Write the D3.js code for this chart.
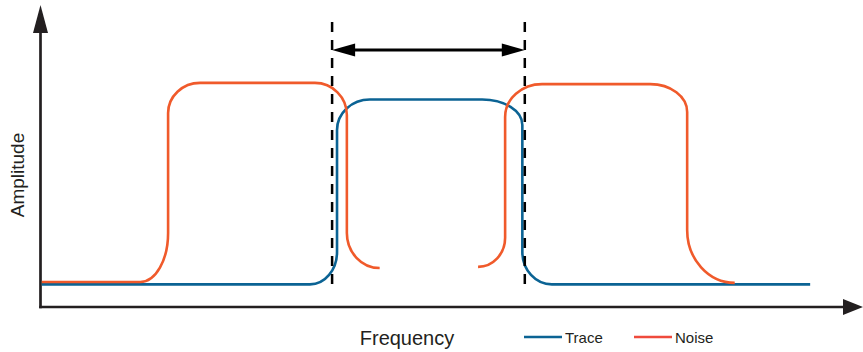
<!DOCTYPE html>
<html>
<head>
<meta charset="utf-8">
<script src="https://cdn.jsdelivr.net/npm/d3@7"></script>
<style>
  body { margin: 0; background: #fff; }
  text { font-family: "Liberation Sans", Arial, sans-serif; fill: #231f20; }
</style>
</head>
<body>
<div id="chart-area"></div>
<script>
// shapes: first point, then corners as [start, corner, end] triples, then an optional last point
const traceShape = [[0.1, 7.5],
    [32.8, 7.5], [36.1, 7.5], [36.1, 18.2],
    [36.1, 58.6], [36.1, 68.7], [40.1, 68.7],
    [53.8, 68.7], [58.7, 68.7], [58.7, 60.3],
    [58.7, 18.2], [58.7, 7.5], [62.3, 7.5],
    [93.8, 7.5]];
const noiseLeft = [[0.1, 8.3],
    [12.1, 8.3], [15.5, 8.3], [15.5, 24.5],
    [15.5, 64.2], [15.5, 74.2], [19.4, 74.2],
    [33.4, 74.2], [37.3, 74.2], [37.3, 63.6],
    [37.3, 24.5], [37.3, 12.9], [41.3, 12.9]];
const noiseRight = [[53.3, 13.3],
    [53.3, 13.3], [56.6, 13.3], [56.6, 22.9],
    [56.6, 62.9], [56.6, 73.8], [61.1, 73.8],
    [74.3, 73.8], [78.8, 73.8], [78.8, 64.6],
    [78.8, 25.5], [78.8, 8.0], [84.6, 8.0]];
const bandEdges = [35.5, 59.0];
const bandTop = 94.4, bandBottom = 5.0, spanLevel = 85.1;
const legendItems = ["Trace", "Noise"];

const width = 863, height = 352;
const x = d3.scaleLinear().domain([0, 100]).range([41, 861]);
const y = d3.scaleLinear().domain([0, 100]).range([307, 5]);

const svg = d3.select('#chart-area').append('svg')
    .attr('width', width)
    .attr('height', height);

// rounded step path built from the shape points
function shapePath(pts) {
    const p = d3.path();
    const k = 0.552;
    p.moveTo(x(pts[0][0]), y(pts[0][1]));
    let i = 1;
    while (i + 2 < pts.length) {
        const s = [x(pts[i][0]), y(pts[i][1])];
        const c = [x(pts[i + 1][0]), y(pts[i + 1][1])];
        const e = [x(pts[i + 2][0]), y(pts[i + 2][1])];
        p.lineTo(s[0], s[1]);
        p.bezierCurveTo(s[0] + k * (c[0] - s[0]), s[1] + k * (c[1] - s[1]),
            e[0] + k * (c[0] - e[0]), e[1] + k * (c[1] - e[1]), e[0], e[1]);
        i += 3;
    }
    if (i < pts.length) p.lineTo(x(pts[i][0]), y(pts[i][1]));
    return p.toString();
}

// axes with arrow heads
const axisColor = '#231f20';
svg.append('line')
    .attr('x1', x(0) - 0.5).attr('x2', x(0) - 0.5)
    .attr('y1', y(0) + 1.3).attr('y2', 32)
    .attr('stroke', axisColor).attr('stroke-width', 2.7);
svg.append('path')
    .attr('d', `M${x(0) - 0.5},5 L${x(0) - 8},33 L${x(0) + 7},33 Z`)
    .attr('fill', axisColor);
svg.append('line')
    .attr('x1', x(0) - 1.8).attr('x2', 844)
    .attr('y1', y(0)).attr('y2', y(0))
    .attr('stroke', axisColor).attr('stroke-width', 2.7);
svg.append('path')
    .attr('d', `M863,${y(0)} L843,${y(0) - 8} L843,${y(0) + 8} Z`)
    .attr('fill', axisColor);

// curves
svg.append('path')
    .attr('d', shapePath(traceShape))
    .attr('fill', 'none').attr('stroke', '#0b6394').attr('stroke-width', 2.6);
[noiseLeft, noiseRight].forEach(s => {
    svg.append('path')
        .attr('d', shapePath(s))
        .attr('fill', 'none').attr('stroke', '#f05a2b').attr('stroke-width', 2.6);
});

// band edges
svg.selectAll('.edge')
    .data(bandEdges)
    .enter().append('line')
    .attr('class', 'edge')
    .attr('x1', d => x(d)).attr('x2', d => x(d))
    .attr('y1', y(bandTop)).attr('y2', y(bandBottom))
    .attr('stroke', '#000').attr('stroke-width', 2.5)
    .attr('stroke-dasharray', '10,8');

// double-headed span arrow
const ay = y(spanLevel), xl = x(bandEdges[0]), xr = x(bandEdges[1]);
svg.append('line')
    .attr('x1', xl + 10).attr('x2', xr - 10)
    .attr('y1', ay).attr('y2', ay)
    .attr('stroke', '#000').attr('stroke-width', 3);
svg.append('path')
    .attr('d', `M${xl},${ay} L${xl + 23},${ay - 6.5} L${xl + 23},${ay + 6.5} Z`)
    .attr('fill', '#000');
svg.append('path')
    .attr('d', `M${xr},${ay} L${xr - 23},${ay - 6.5} L${xr - 23},${ay + 6.5} Z`)
    .attr('fill', '#000');

// labels
svg.append('text')
    .attr('transform', 'translate(24,175) rotate(-90)')
    .attr('text-anchor', 'middle')
    .style('font-size', '19px')
    .text('Amplitude');
svg.append('text')
    .attr('x', 407).attr('y', 345)
    .attr('text-anchor', 'middle')
    .style('font-size', '20px')
    .text('Frequency');

// legend
const legendColors = ['#0b6394', '#ef4a3c'];
const legendX = [524, 634];
legendItems.forEach((name, i) => {
    svg.append('line')
        .attr('x1', legendX[i]).attr('x2', legendX[i] + 38)
        .attr('y1', 337).attr('y2', 337)
        .attr('stroke', legendColors[i]).attr('stroke-width', 2.6);
    svg.append('text')
        .attr('x', legendX[i] + 41).attr('y', 342.5)
        .style('font-size', '15px')
        .text(name);
});
</script>
</body>
</html>
